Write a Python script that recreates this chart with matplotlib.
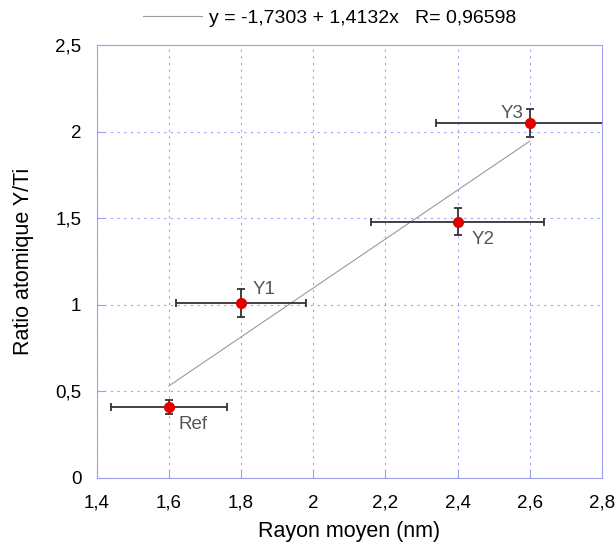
import matplotlib
matplotlib.use('Agg')
import matplotlib.pyplot as plt

plt.rcParams['font.family'] = ['Liberation Sans', 'DejaVu Sans']

# --- données ---
noms = ['Ref', 'Y1', 'Y2', 'Y3']
rayon = [1.6, 1.8, 2.4, 2.6]
ratio = [0.41, 1.01, 1.48, 2.05]
err_x = [0.16, 0.18, 0.24, 0.26]
err_y = [0.04, 0.08, 0.08, 0.08]

fit_a = -1.7303
fit_b = 1.4132
fit_x = [1.6, 2.6]
fit_label = 'y = -1,7303 + 1,4132x   R= 0,96598'

x_ticks = [1.4, 1.6, 1.8, 2.0, 2.2, 2.4, 2.6, 2.8]
x_labels = ['1,4', '1,6', '1,8', '2', '2,2', '2,4', '2,6', '2,8']
y_ticks = [0, 0.5, 1, 1.5, 2, 2.5]
y_labels = ['0', '0,5', '1', '1,5', '2', '2,5']

# positions des étiquettes (décalage en points)
decalages = [(7, -13), (8, 10), (10, -13), (-21, 7)]

bleu = '#a0a0f0'

fig = plt.figure(figsize=(6.16, 5.48), dpi=100)
ax = fig.add_axes([0.157, 0.128, 0.820, 0.790])

fit_y = [fit_a + fit_b * x for x in fit_x]
ax.plot(fit_x, fit_y, color='#9a9a9a', lw=0.8, label=fit_label, zorder=2)

ax.errorbar(rayon, ratio, xerr=err_x, yerr=err_y, fmt='none',
            ecolor='#333333', elinewidth=1.3, capsize=3, capthick=1.3, zorder=3)
ax.plot(rayon, ratio, 'o', color='#e00000', ms=7, zorder=4)

for nom, x, y, d in zip(noms, rayon, ratio, decalages):
    ax.annotate(nom, (x, y), xytext=d, textcoords='offset points',
                fontsize=13.5, color='#555555', ha='left', va='center')

ax.set_xlim(1.4, 2.8)
ax.set_ylim(0, 2.5)
ax.set_xticks(x_ticks)
ax.set_xticklabels(x_labels)
ax.set_yticks(y_ticks)
ax.set_yticklabels(y_labels)
ax.tick_params(direction='in', length=6, color=bleu, labelsize=13.5)
ax.tick_params(axis='x', pad=12)
ax.tick_params(axis='y', pad=11)
ax.grid(True, linestyle=(0, (2, 4)), color=bleu, lw=0.8)
for s in ax.spines.values():
    s.set_color(bleu)

ax.set_xlabel('Rayon moyen (nm)', fontsize=15.5)
ax.set_ylabel('Ratio atomique Y/Ti', fontsize=15.5)
ax.xaxis.set_label_coords(0.5, -0.099)
ax.yaxis.set_label_coords(-0.124, 0.5)

fig.legend(loc='center', bbox_to_anchor=(0.535, 0.967), frameon=False,
           fontsize=14, handlelength=3.0, handletextpad=0.35)

plt.savefig('out.png', dpi=100)
